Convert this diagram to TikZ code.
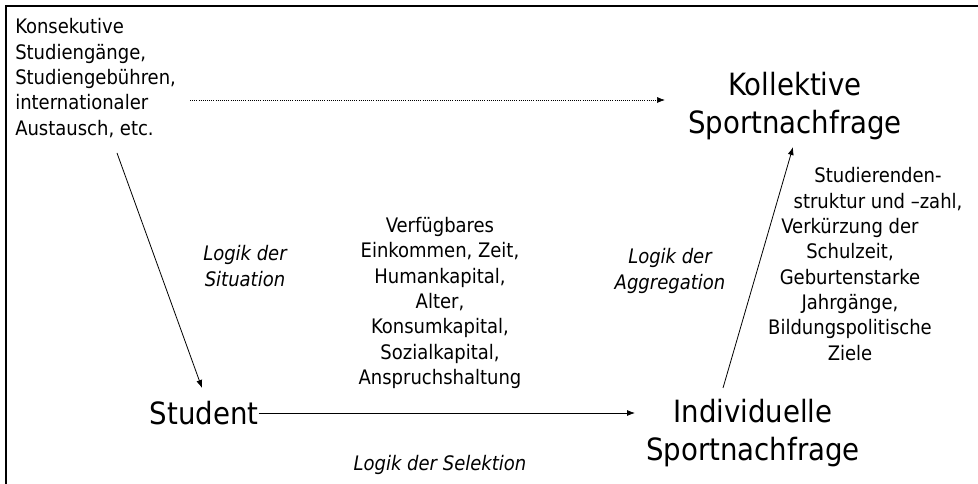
\documentclass[tikz,border=0pt]{standalone}
\usepackage{fontspec}
\setmainfont{DejaVu Sans Condensed}
\usetikzlibrary{arrows.meta}

\tikzset{
  klein/.style={font=\fontsize{15}{19}\selectfont, inner sep=0pt, align=center},
  logik/.style={font=\fontsize{15}{19}\selectfont\itshape, inner sep=0pt, align=center},
  gross/.style={font=\fontsize{23}{29}\selectfont, inner sep=0pt, align=center},
  pfeil/.style={-{Latex[length=6pt,width=4.5pt]}, line width=0.6pt},
}

\begin{document}
\begin{tikzpicture}[x=0.75pt,y=-0.75pt]
			%%%%% START %%%%%
			\useasboundingbox (0,0) rectangle (978,484);
			\draw[line width=1.5pt] (6,484) -- (6,6) -- (978,6);
			
			\node[klein, align=left, anchor=west] (kons) at (15,78) {Konsekutive\\Studiengänge,\\Studiengebühren,\\internationaler\\Austausch, etc.};
			
			\node[gross] (koll) at (795,106) {Kollektive\\Sportnachfrage};
			\node[gross] (student) at (204,413) {Student};
			\node[gross] (indiv) at (753,433) {Individuelle\\Sportnachfrage};
			
			\node[logik] (situation) at (245,266) {Logik der\\Situation};
			\node[logik] (aggregation) at (670,271) {Logik der\\Aggregation};
			\node[logik] (selektion) at (440,465) {Logik der Selektion};
			
			\node[klein] (ressourcen) at (440,303) {Verfügbares\\Einkommen, Zeit,\\Humankapital,\\Alter,\\Konsumkapital,\\Sozialkapital,\\Anspruchshaltung};
			\node[klein] (struktur) at (850,264) {\hspace*{42pt}Studierenden-\\\hspace*{42pt}struktur und –zahl,\\Verkürzung der\\Schulzeit,\\Geburtenstarke\\Jahrgänge,\\Bildungspolitische\\Ziele};
			
			% Pfeile
			\coordinate (punktstart) at ([shift={(175,22)}]kons.west);
			\coordinate (punktziel) at ([shift={(-130,0)}]koll.center);
			\coordinate (selziel) at ([shift={(-118,0)}]indiv.center);
			
			\draw[pfeil, densely dotted, line width=0.5pt] (punktstart) -- (punktstart -| punktziel);
			\draw[pfeil] ([shift={(102,75)}]kons.west) -- ([shift={(-2,-25)}]student.center);
			\draw[pfeil] (student.east) -- (student.east -| selziel);
			\draw[pfeil] ([shift={(-30,-45)}]indiv.center) -- ([shift={(-2,41)}]koll.center);
			
			%%%%% END %%%%%
\end{tikzpicture}
\end{document}
